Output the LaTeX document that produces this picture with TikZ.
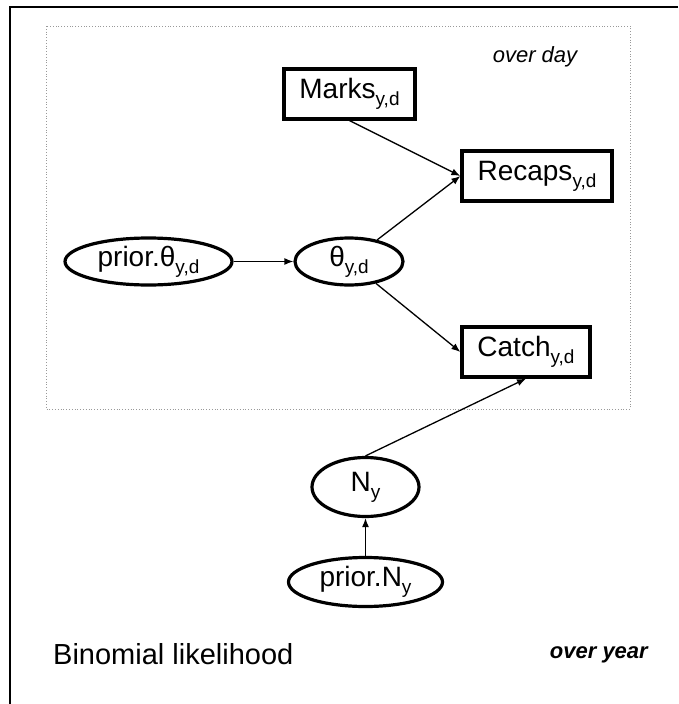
\documentclass[tikz,border=0pt]{standalone}
\usepackage{fontspec}
\setmainfont{Liberation Sans}
\usetikzlibrary{shapes.geometric,arrows.meta,calc}

% subscript in the text font
\newcommand{\subtx}[1]{\raisebox{-0.24em}{\fontsize{19}{19}\selectfont #1}}

\tikzset{
  varbox/.style={draw, line width=3.2pt, rectangle, inner sep=0pt,
    minimum height=50pt, font=\fontsize{28}{28}\selectfont},
  varell/.style={draw, line width=3.2pt, ellipse, inner sep=0pt,
    font=\fontsize{28}{28}\selectfont},
  link/.style={line width=1.3pt, -{Latex[length=9pt,width=7pt]}},
  plate/.style={draw=gray!80, line width=0.8pt, dotted},
}

\begin{document}
\begin{tikzpicture}[x=1pt, y=-1pt]
  \useasboundingbox (0,0) rectangle (678,704);

  % outer frame (top and left edges)
  \draw[line width=2.4pt] (678,7) -- (10,7) -- (10,704);

  % plate over day
  \draw[plate] (46,26) rectangle (630,409);
  \node[font=\fontsize{22}{22}\selectfont\itshape] (overday) at (535,57) {over day};

  % nodes
  \node[varbox, minimum width=131pt] (marks) at (349.5,94) {Marks\subtx{y,d}};
  \node[varbox, minimum width=150pt] (recaps) at (537,176) {Recaps\subtx{y,d}};
  \node[varell, minimum width=167pt, minimum height=47pt] (priortheta) at (148.5,261.5) {prior.θ\subtx{y,d}};
  \node[varell, minimum width=108pt, minimum height=47pt] (theta) at (349,261.5) {θ\subtx{y,d}};
  \node[varbox, minimum width=128pt] (catch) at (526,352) {Catch\subtx{y,d}};
  \node[varell, minimum width=107pt, minimum height=59pt] (ny) at (365.5,487) {N\subtx{y}};
  \node[varell, minimum width=154pt, minimum height=49pt] (priorny) at (365.5,582) {prior.N\subtx{y}};

  % labels at the bottom
  \node[anchor=base west, inner sep=0pt, font=\fontsize{29}{29}\selectfont] (binom) at (53,664) {Binomial likelihood};
  \node[anchor=base east, inner sep=0pt, font=\fontsize{22}{22}\selectfont\bfseries\itshape] (overyear) at (648,658) {over year};

  % connectors
  \draw[link] (marks.south) -- (recaps.west);
  \draw[link] (theta) -- (recaps.west);
  \draw[link] (priortheta) -- (theta);
  \draw[link] (theta) -- (catch.west);
  \draw[link] (ny.north) -- (catch.south);
  \draw[link] (priorny.north) -- (ny.south);
\end{tikzpicture}
\end{document}
